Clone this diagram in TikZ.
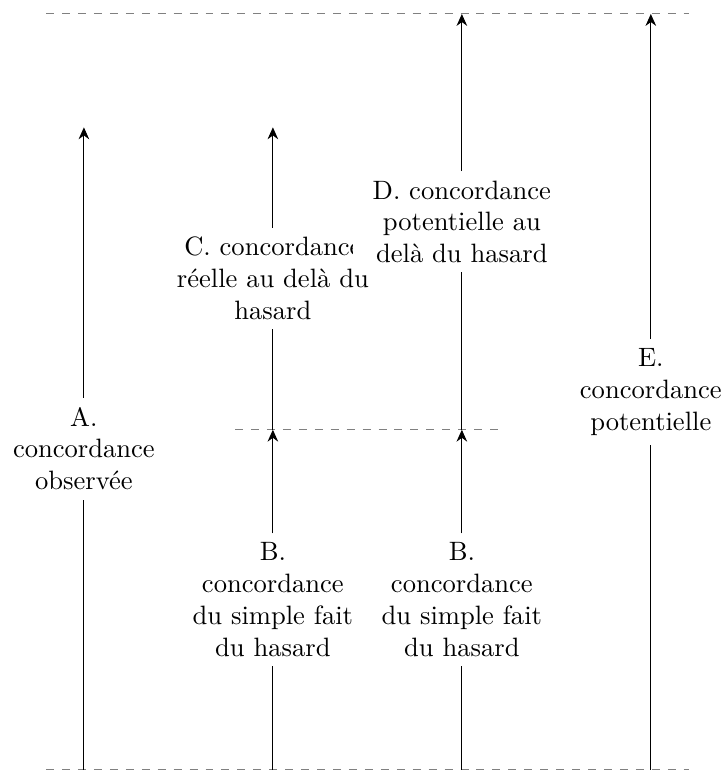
\documentclass[tikz,border=0pt]{standalone}
\usepackage{fontspec}
\usetikzlibrary{arrows.meta}
\begin{document}
\begin{tikzpicture}[lbl/.style={fill=white,align=center,text width=#1},lbl/.default=2.2cm,level/.style={dashed,gray},>={Stealth[length=4.5pt,width=4pt]}]
\useasboundingbox (-1.11,-0.015) rectangle (8.44,10.185);

% dashed levels
\coordinate (l0) at (-0.5,0);
\coordinate (r0) at (8,0);
\coordinate (l1) at (2,4.5);
\coordinate (r1) at (5.5,4.5);
\coordinate (l2) at (-0.5,10);
\coordinate (r2) at (8,10);
\draw[level] (l0) -- (r0);
\draw[level] (l1) -- (r1);
\draw[level] (l2) -- (r2);

% A
\coordinate (a0) at (0,0);
\coordinate (a1) at (0,8.5);
\node[lbl] (A) at (0,4.25) {A.\\concordance\\observée};
\draw (a0) -- (A);
\draw[->] (A) -- (a1);

% B (twice)
\coordinate (b0) at (2.5,0);
\coordinate (b1) at (2.5,4.5);
\node[lbl] (B1) at (2.5,2.25) {B.\\concordance\\du simple fait\\du hasard};
\draw (b0) -- (B1);
\draw[->] (B1) -- (b1);

\coordinate (bb0) at (5,0);
\coordinate (bb1) at (5,4.5);
\node[lbl] (B2) at (5,2.25) {B.\\concordance\\du simple fait\\du hasard};
\draw (bb0) -- (B2);
\draw[->] (B2) -- (bb1);

% C
\coordinate (c1) at (2.5,8.5);
\node[lbl=2.75cm] (C) at (2.5,6.5) {C. concordance\\réelle au delà du\\hasard};
\draw (b1) -- (C);
\draw[->] (C) -- (c1);

% D
\coordinate (d1) at (5,10);
\node[lbl=2.65cm] (D) at (5,7.25) {D. concordance\\potentielle au\\delà du hasard};
\draw (bb1) -- (D);
\draw[->] (D) -- (d1);

% E
\coordinate (e0) at (7.5,0);
\coordinate (e1) at (7.5,10);
\node[lbl] (E) at (7.5,5) {E.\\concordance\\potentielle};
\draw (e0) -- (E);
\draw[->] (E) -- (e1);

\end{tikzpicture}
\end{document}
